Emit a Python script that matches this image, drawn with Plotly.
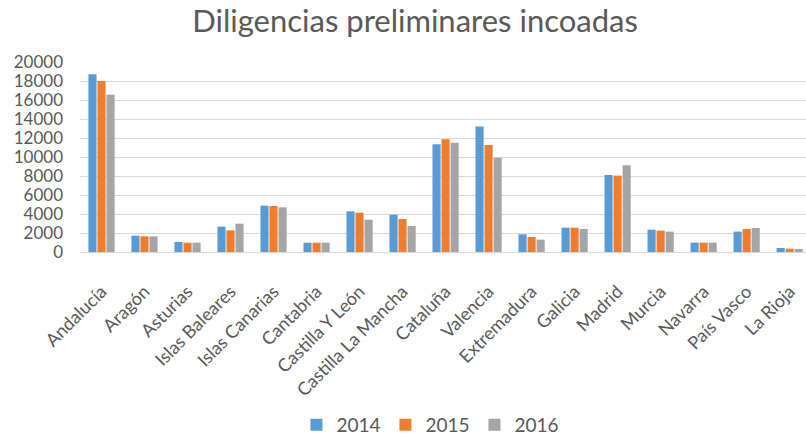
import plotly.graph_objects as go

categories = ["Andalucía", "Aragón", "Asturias", "Islas Baleares", "Islas Canarias",
              "Cantabria", "Castilla Y León", "Castilla La Mancha", "Cataluña", "Valencia",
              "Extremadura", "Galicia", "Madrid", "Murcia", "Navarra", "País Vasco", "La Rioja"]
v2014 = [18700, 1720, 1050, 2670, 4880, 980, 4280, 3930, 11340, 13200, 1860, 2560, 8110, 2350, 980, 2140, 420]
v2015 = [18000, 1650, 980, 2280, 4840, 980, 4140, 3470, 11860, 11270, 1580, 2560, 8040, 2250, 980, 2420, 350]
v2016 = [16560, 1650, 980, 2980, 4700, 980, 3400, 2740, 11510, 9930, 1300, 2420, 9130, 2140, 980, 2530, 320]
series_names = ["2014", "2015", "2016"]
colors = ["#5B9BD5", "#ED7D31", "#A5A5A5"]
y_ticks = [0, 2000, 4000, 6000, 8000, 10000, 12000, 14000, 16000, 18000, 20000]
y_ticktext = [str(v) for v in y_ticks]

font_family = "Lato, 'Open Sans', sans-serif"
fig = go.Figure()
for name, vals, col in zip(series_names, [v2014, v2015, v2016], colors):
    fig.add_trace(go.Bar(name=name, x=categories, y=vals, marker_color=col, marker_line_width=0))

fig.update_layout(
    width=806, height=438,
    margin=dict(l=80, r=0, t=62, b=186, autoexpand=False),
    paper_bgcolor="white", plot_bgcolor="white",
    barmode="group", bargap=0.37, bargroupgap=0.1,
    font=dict(family=font_family, color="#595959"),
    title=dict(text="Diligencias preliminares incoadas", x=0.515, xanchor="center",
               y=0.952, yanchor="middle", yref="container",
               font=dict(size=31, color="#595959", family=font_family)),
    legend=dict(orientation="h", x=0.482, xanchor="center", y=0.03, yanchor="middle",
                yref="container", font=dict(size=19, color="#595959"),
                itemwidth=30, entrywidth=44, traceorder="normal"),
    xaxis=dict(range=[-0.5, 16.38], tickangle=-45, tickfont=dict(size=18, color="#595959"),
               showline=True, linecolor="#D9D9D9", linewidth=1, ticks="", automargin=False,
               ticklabelstandoff=21),
    yaxis=dict(range=[0, 20000], tickvals=y_ticks, ticktext=y_ticktext, showgrid=True,
               gridcolor="#D9D9D9", gridwidth=1, zeroline=False, showline=False, ticks="",
               tickfont=dict(size=17, color="#595959"), ticklabelstandoff=16, automargin=False),
)

fig.write_html("out.html", config={"displayModeBar": False},
               post_script="document.body.style.margin='0';document.body.style.padding='0';")
